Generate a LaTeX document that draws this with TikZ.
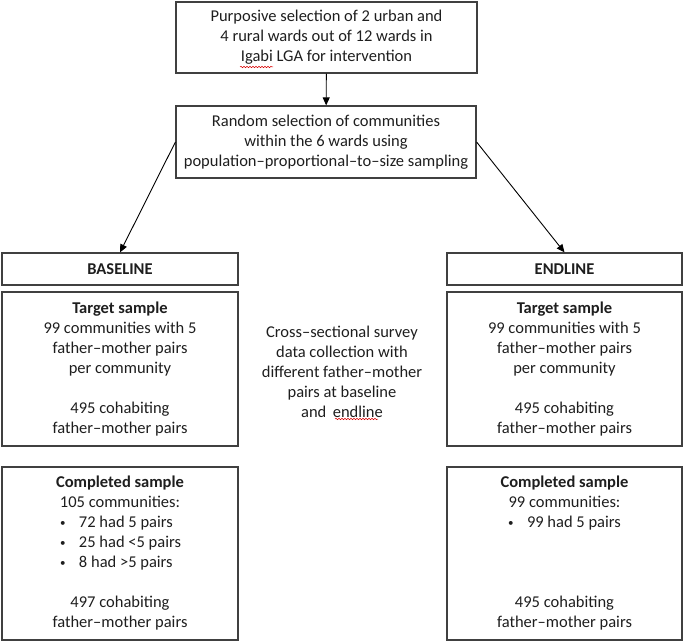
\documentclass[tikz,border=0pt]{standalone}
\usepackage{fontspec}
\setmainfont{Carlito}
\usetikzlibrary{arrows.meta,decorations.pathmorphing}
\definecolor{boxline}{HTML}{404040}
\definecolor{txt}{HTML}{1E1E1E}
\tikzset{
  box/.style={draw=boxline, line width=1.2pt, rectangle, inner sep=0pt, align=center, text=txt,
    font=\fontsize{16.5}{20}\selectfont},
  plain/.style={inner sep=0pt, align=center, text=txt, font=\fontsize{16.5}{20}\selectfont},
  arr/.style={draw=black, line width=0.9pt, -{Triangle[length=8pt,width=7pt]}},
  spell/.style={draw=red!85!black, line width=0.5pt, decorate, decoration={snake, amplitude=0.7pt, segment length=3pt}}
}
\newcommand{\bitem}[2]{\makebox[#1][l]{\makebox[19pt][l]{\raisebox{1.5pt}{\fontsize{11}{20}\selectfont\textbullet}}#2}}
\begin{document}
\begin{tikzpicture}[x=1pt,y=-1pt]
\useasboundingbox (0,0) rectangle (683,642);
\node[box, minimum width=301pt, minimum height=71pt] (top) at (326.5,37.5)
  {Purposive selection of 2 urban and\\4 rural wards out of 12 wards in\\Igabi LGA for intervention};
\node[box, minimum width=300pt, minimum height=72pt] (rand) at (326,142)
  {Random selection of communities\\within the 6 wards using\\population–proportional–to–size sampling};
\node[box, minimum width=236pt, minimum height=32pt] (base) at (120,269) {\textbf{BASELINE}};
\node[box, minimum width=235pt, minimum height=32pt] (end) at (564.5,269) {\textbf{ENDLINE}};
\node[box, minimum width=236pt, minimum height=154pt] (tl) at (120,369)
  {\textbf{Target sample}\\99 communities with 5\\father–mother pairs\\per community\\[20pt]495 cohabiting\\father–mother pairs};
\node[box, minimum width=235pt, minimum height=154pt] (tr) at (564.5,369)
  {\textbf{Target sample}\\99 communities with 5\\father–mother pairs\\per community\\[20pt]495 cohabiting\\father–mother pairs};
\node[box, minimum width=236pt, minimum height=173pt] (cl) at (120,553.5)
  {\textbf{Completed sample}\\105 communities:\\\bitem{120pt}{72 had 5 pairs}\\\bitem{120pt}{25 had <5 pairs}\\\bitem{120pt}{8 had >5 pairs}\\[20pt]497 cohabiting\\father–mother pairs};
\node[box, minimum width=235pt, minimum height=173pt] (cr) at (564.5,553.5)
  {\textbf{Completed sample}\\99 communities:\\\bitem{113pt}{99 had 5 pairs}\\[60pt]495 cohabiting\\father–mother pairs};
\node[plain] (mid) at (342,372)
  {Cross–sectional survey\\data collection with\\different father–mother\\pairs at baseline\\and \,endline};
\draw[arr] (top) -- (rand);
\draw[arr] (rand.west) -- (base.north);
\draw[arr] (rand.east) -- (end.north);
\draw[spell] (240,67) -- (273,67);
\draw[spell] (335,419) -- (378,419);
\end{tikzpicture}
\end{document}
